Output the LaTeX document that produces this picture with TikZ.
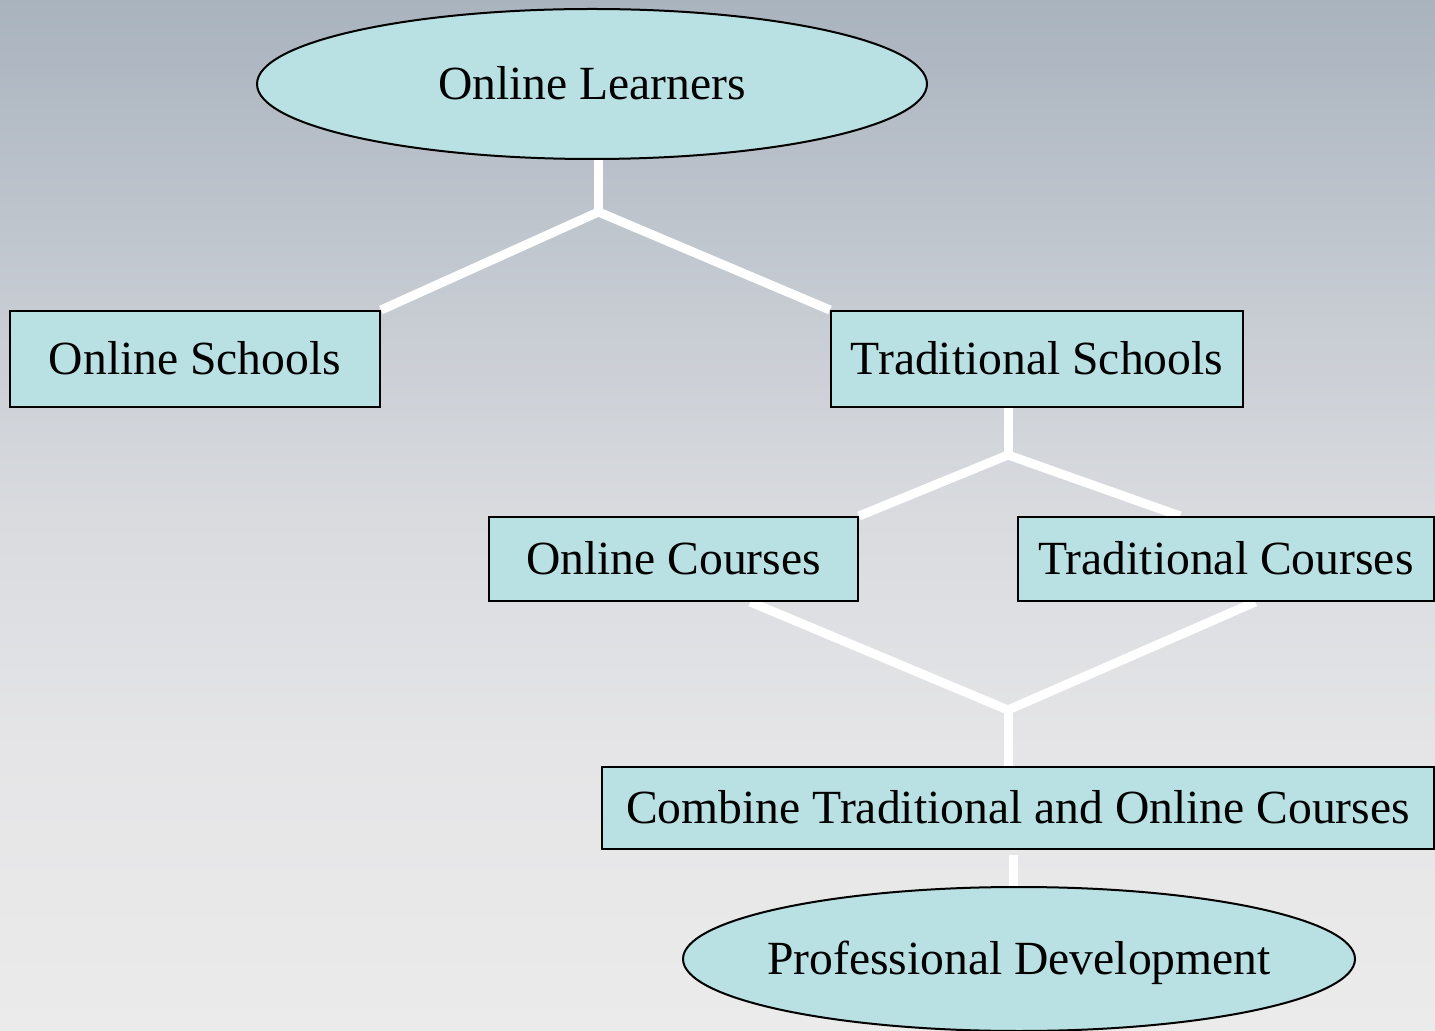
\documentclass[tikz,border=0pt]{standalone}
\usepackage{fontspec}
\setmainfont{Liberation Serif}
\usetikzlibrary{shapes.geometric,calc}
\pgfdeclarelayer{bg}
\pgfdeclarelayer{lines}
\pgfsetlayers{bg,lines,main}
\definecolor{nodefill}{HTML}{B9E0E3}
\definecolor{bgA}{HTML}{A9B3BE}
\definecolor{bgB}{HTML}{C6CBD2}
\definecolor{bgC}{HTML}{D9DBDF}
\definecolor{bgD}{HTML}{E5E5E7}
\definecolor{bgE}{HTML}{EBEBEB}
\pgfdeclareverticalshading{bgshade}{100bp}{color(0bp)=(bgE); color(25bp)=(bgE); color(38.6bp)=(bgD); color(49.8bp)=(bgC); color(60.5bp)=(bgB); color(75bp)=(bgA); color(100bp)=(bgA)}
\tikzset{
  nodetext/.style={font=\fontsize{23.8pt}{28pt}\selectfont, text height=15.8pt, text depth=0pt},
  boxnode/.style={draw=black, line width=1pt, fill=nodefill, rectangle, inner sep=0pt, nodetext},
  ellnode/.style={draw=black, line width=1pt, fill=nodefill, ellipse, inner sep=0pt, nodetext},
  link/.style={draw=white, line width=4.5pt}
}
\begin{document}
\begin{tikzpicture}[x=0.5pt, y=-0.5pt]
\useasboundingbox (0,0) rectangle (1435,1031);
\begin{pgfonlayer}{bg}
  \shade[shading=bgshade] (0,0) rectangle (1435,1031);
\end{pgfonlayer}

\node[ellnode, minimum width=335pt, minimum height=75pt] (OL) at (592,84) {\makebox[0pt]{Online Learners}};
\node[boxnode, minimum width=185pt, minimum height=48pt] (OS) at (195,359) {Online Schools};
\node[boxnode, minimum width=206pt, minimum height=48pt] (TS) at (1037,359) {Traditional Schools};
\node[boxnode, minimum width=184.5pt, minimum height=42pt] (OC) at (673.5,559) {Online Courses};
\node[boxnode, minimum width=208pt, minimum height=42pt] (TC) at (1226,559) {Traditional Courses};
\node[boxnode, minimum width=416pt, minimum height=41pt] (CB) at (1018,808) {Combine Traditional and Online Courses};
\node[ellnode, minimum width=336pt, minimum height=72pt] (PD) at (1019,959) {\makebox[0pt]{Professional Development}};

\coordinate (j1) at (598.5,212);
\coordinate (j2) at (1008,455);
\coordinate (j3) at (1008,710);
\coordinate (c1) at (1013,855);

\begin{pgfonlayer}{lines}
  \draw[link] (OL.south -| j1) -- (j1);
  \draw[link] (j1) -- (OS.north east);
  \draw[link] (j1) -- (TS.north west);
  \draw[link] (TS.south -| j2) -- (j2);
  \draw[link] (j2) -- (OC.north east);
  \draw[link] (j2) -- ($(TC.north west)!0.39!(TC.north east)$);
  \draw[link] ($(OC.south west)!0.707!(OC.south east)$) -- (j3);
  \draw[link] ($(TC.south west)!0.57!(TC.south east)$) -- (j3);
  \draw[link] (j3) -- (CB.north -| j3);
  \draw[link] (c1) -- (PD.north -| c1);
\end{pgfonlayer}
\end{tikzpicture}
\end{document}
